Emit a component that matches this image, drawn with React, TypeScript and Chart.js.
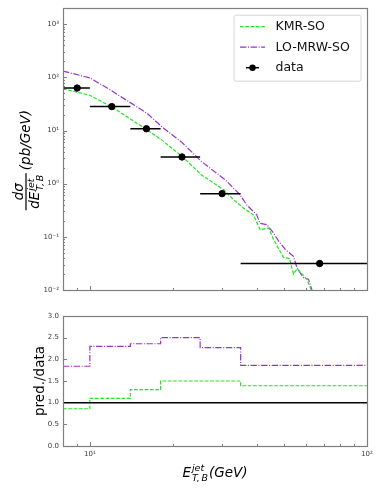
import React, { useEffect, useRef } from "react";
import { Chart, registerables } from "chart.js";
Chart.register(...registerables);

const FONT = '"DejaVu Sans", "Liberation Sans", sans-serif';

// ---- data ----
const binLo = [8, 10, 14, 18, 25, 35];
const binHi = [10, 14, 18, 25, 35, 100];
const dataX = [9, 12, 16, 21.5, 30, 67.5];
const dataY = [63, 28.2, 10.8, 3.18, 0.65, 0.0315];

const kmrX = [8, 10, 12, 16, 18.2, 21.6, 25.3, 30.4, 33, 35.8, 38.9, 41.2, 44.2, 46, 50, 52.5, 54.3, 56, 60.6, 63.2];
const kmrY = [61, 46, 27.8, 10.5, 6.6, 3.2, 1.46, 0.77, 0.5, 0.35, 0.26, 0.136, 0.147, 0.089, 0.041, 0.039, 0.02, 0.025, 0.016, 0.0095];

const mrwX = [8, 10, 11.8, 16.1, 18.2, 21.4, 25.3, 30.8, 34.8, 36.8, 40, 41.1, 43.5, 46, 48, 50.7, 54.3, 55.9, 59, 61.5, 63.5];
const mrwY = [131, 98, 59, 21, 11.7, 6.1, 2.6, 1.18, 0.62, 0.4, 0.26, 0.18, 0.17, 0.118, 0.083, 0.058, 0.043, 0.026, 0.017, 0.016, 0.0095];

const ratioKmr = [0.86, 1.1, 1.3, 1.5, 1.5, 1.39];
const ratioMrw = [1.84, 2.3, 2.36, 2.5, 2.27, 1.86];
const unityX = [8, 100];
const unityY = [1, 1];

// ---- ticks ----
const yTopTicks = [0.01, 0.1, 1, 10, 100, 1000];
const yTopLabels = ["10\u207B\u00B2", "10\u207B\u00B9", "10\u2070", "10\u00B9", "10\u00B2", "10\u00B3"];
const minorMult = [2, 3, 4, 5, 6, 7, 8, 9];
const ratioTicks = [0, 0.5, 1, 1.5, 2, 2.5, 3];
const ratioLabels = ["0.0", "0.5", "1.0", "1.5", "2.0", "2.5", "3.0"];
const xMajorTicks = [10, 100];
const xMajorLabels = ["10\u00B9", "10\u00B2"];
const xMinorTicks = [9, 20, 30, 40, 50, 60, 70, 80, 90];

const GREEN = "#1fe81f";
const PURPLE = "#9932cc";
const FRAME = "#7f7f7f";
const TICKTXT = "#3a3a3a";
const KMR_DASH = [3.7, 1.6];
const MRW_DASH = [6.4, 1.6, 1, 1.6];

const yTopMinor: number[] = [];
yTopTicks.forEach((d) => minorMult.forEach((m) => { if (d * m <= 2000) yTopMinor.push(d * m); }));

function pts(xs: number[], ys: number[]) {
  return xs.map((x, i) => ({ x, y: ys[i] }));
}
function stepPts(vals: number[]) {
  const p = binLo.map((x, i) => ({ x, y: vals[i] }));
  p.push({ x: binHi[binHi.length - 1], y: vals[vals.length - 1] });
  return p;
}

function drawFrameAndTicks(chart: any, yMajor: number[], yMinor: number[]) {
  const { ctx, chartArea: a, scales } = chart;
  ctx.save();
  ctx.strokeStyle = FRAME;
  ctx.lineWidth = 1;
  ctx.beginPath();
  const xs = [...xMajorTicks.map((v) => [v, 4]), ...xMinorTicks.map((v) => [v, 2])];
  xs.forEach(([v, l]) => {
    const px = Math.round(scales.x.getPixelForValue(v)) + 0.5;
    ctx.moveTo(px, a.bottom);
    ctx.lineTo(px, a.bottom - l);
  });
  const ys = [...yMajor.map((v) => [v, 4]), ...yMinor.map((v) => [v, 2])];
  ys.forEach(([v, l]) => {
    const py = Math.round(scales.y.getPixelForValue(v)) + 0.5;
    if (py < a.top || py > a.bottom + 1) return;
    ctx.moveTo(a.left, py);
    ctx.lineTo(a.left + l, py);
  });
  ctx.stroke();
  ctx.lineWidth = 1.2;
  ctx.strokeRect(Math.round(a.left) + 0.5, Math.round(a.top) + 0.5, Math.round(a.right - a.left), Math.round(a.bottom - a.top));
  ctx.restore();
}

function drawYTitleTop(ctx: CanvasRenderingContext2D, cx: number, cy: number) {
  const fs = 13.5;
  const it = `oblique ${fs}px ${FONT}`;
  const sm = `oblique ${fs * 0.7}px ${FONT}`;
  ctx.save();
  ctx.fillStyle = "#000";
  ctx.translate(cx, cy);
  ctx.rotate(-Math.PI / 2);
  ctx.textBaseline = "alphabetic";
  ctx.textAlign = "left";
  ctx.font = it;
  const wNum = ctx.measureText("d\u03C3").width;
  const wDE = ctx.measureText("dE").width;
  const wUnit = ctx.measureText("(pb/GeV)").width;
  ctx.font = sm;
  const wSup = ctx.measureText("jet").width;
  const wSub = ctx.measureText("T,\u2009B").width;
  const wDen = wDE + 1 + Math.max(wSup, wSub);
  const bar = Math.max(wNum, wDen) + 3;
  const gap = 3;
  const total = bar + gap + wUnit;
  const u0 = -total / 2;
  ctx.fillRect(u0, -0.6, bar, 1.2);
  ctx.font = it;
  ctx.fillText("d\u03C3", u0 + (bar - wNum) / 2, -3);
  const dx = u0 + (bar - wDen) / 2;
  const baseDen = 3 + fs * 0.76;
  ctx.fillText("dE", dx, baseDen);
  ctx.font = sm;
  ctx.fillText("jet", dx + wDE + 1, baseDen - fs * 0.42);
  ctx.fillText("T,\u2009B", dx + wDE + 1, baseDen + fs * 0.28);
  ctx.font = it;
  ctx.fillText("(pb/GeV)", u0 + bar + gap, fs * 0.27);
  ctx.restore();
}

function drawXTitle(ctx: CanvasRenderingContext2D, cx: number, base: number) {
  const fs = 13.5;
  const it = `oblique ${fs}px ${FONT}`;
  const sm = `oblique ${fs * 0.7}px ${FONT}`;
  ctx.save();
  ctx.fillStyle = "#000";
  ctx.textBaseline = "alphabetic";
  ctx.textAlign = "left";
  ctx.font = it;
  const wE = ctx.measureText("E").width;
  const wU = ctx.measureText("(GeV)").width;
  ctx.font = sm;
  const wSup = ctx.measureText("jet").width;
  const wSub = ctx.measureText("T,\u2009B").width;
  const wS = Math.max(wSup, wSub) + 1;
  const total = wE + 1 + wS + wU;
  const x0 = cx - total / 2;
  ctx.font = it;
  ctx.fillText("E", x0, base);
  ctx.font = sm;
  ctx.fillText("jet", x0 + wE + 1, base - fs * 0.42);
  ctx.fillText("T,\u2009B", x0 + wE + 1, base + fs * 0.28);
  ctx.font = it;
  ctx.fillText("(GeV)", x0 + wE + 1 + wS, base);
  ctx.restore();
}

function drawLegend(chart: any) {
  const { ctx, chartArea: a } = chart;
  const x0 = a.right - 133;
  const y0 = a.top + 7;
  const w = 127;
  const h = 66;
  ctx.save();
  ctx.beginPath();
  const r = 2;
  ctx.moveTo(x0 + r, y0);
  ctx.arcTo(x0 + w, y0, x0 + w, y0 + h, r);
  ctx.arcTo(x0 + w, y0 + h, x0, y0 + h, r);
  ctx.arcTo(x0, y0 + h, x0, y0, r);
  ctx.arcTo(x0, y0, x0 + w, y0, r);
  ctx.closePath();
  ctx.fillStyle = "rgba(255,255,255,0.8)";
  ctx.fill();
  ctx.strokeStyle = "#d6d6d6";
  ctx.lineWidth = 1;
  ctx.stroke();
  const rows = [
    { label: "KMR-SO", y: y0 + 11.5, kind: 0 },
    { label: "LO-MRW-SO", y: y0 + 32, kind: 1 },
    { label: "data", y: y0 + 52.5, kind: 2 },
  ];
  const lx0 = x0 + 6;
  const lx1 = x0 + 31;
  rows.forEach((row) => {
    ctx.beginPath();
    if (row.kind === 0) {
      ctx.strokeStyle = GREEN; ctx.lineWidth = 1.2; ctx.setLineDash(KMR_DASH);
      ctx.moveTo(lx0, row.y); ctx.lineTo(lx1, row.y); ctx.stroke();
    } else if (row.kind === 1) {
      ctx.strokeStyle = PURPLE; ctx.lineWidth = 1.2; ctx.setLineDash(MRW_DASH);
      ctx.moveTo(lx0, row.y); ctx.lineTo(lx1, row.y); ctx.stroke();
    } else {
      ctx.setLineDash([]);
      ctx.strokeStyle = "#000"; ctx.lineWidth = 1.5;
      ctx.moveTo(lx0 + 6, row.y); ctx.lineTo(lx1 - 6, row.y); ctx.stroke();
      ctx.beginPath(); ctx.fillStyle = "#000";
      ctx.arc((lx0 + lx1) / 2, row.y, 3.2, 0, Math.PI * 2); ctx.fill();
    }
    ctx.setLineDash([]);
    ctx.fillStyle = "#111";
    ctx.font = `12.5px ${FONT}`;
    ctx.textBaseline = "middle";
    ctx.textAlign = "left";
    ctx.fillText(row.label, x0 + 41.5, row.y + 0.5);
  });
  ctx.restore();
}

const topPlugin = {
  id: "topDecor",
  afterDatasetsDraw(chart: any) {
    const { ctx, chartArea: a, scales } = chart;
    ctx.save();
    ctx.beginPath();
    ctx.rect(a.left, a.top, a.right - a.left, a.bottom - a.top);
    ctx.clip();
    ctx.strokeStyle = "#000";
    ctx.lineWidth = 1.5;
    ctx.beginPath();
    dataY.forEach((y, i) => {
      const py = scales.y.getPixelForValue(y);
      ctx.moveTo(scales.x.getPixelForValue(binLo[i]), py);
      ctx.lineTo(scales.x.getPixelForValue(binHi[i]), py);
    });
    ctx.stroke();
    ctx.restore();
  },
  afterDraw(chart: any) {
    drawFrameAndTicks(chart, yTopTicks, yTopMinor);
    drawLegend(chart);
    drawYTitleTop(chart.ctx, 26, (chart.chartArea.top + chart.chartArea.bottom) / 2 + 11);
  },
};

const botPlugin = {
  id: "botDecor",
  afterDraw(chart: any) {
    drawFrameAndTicks(chart, ratioTicks, []);
    const { ctx, chartArea: a } = chart;
    ctx.save();
    ctx.fillStyle = "#000";
    ctx.font = `13.5px ${FONT}`;
    ctx.textAlign = "center";
    ctx.textBaseline = "middle";
    ctx.translate(40, (a.top + a.bottom) / 2);
    ctx.rotate(-Math.PI / 2);
    ctx.fillText("pred./data", 0, 0);
    ctx.restore();
    drawXTitle(ctx, (a.left + a.right) / 2, 177);
  },
};

const tickFont = { family: FONT, size: 7 };

function topConfig(): any {
  return {
    type: "line",
    data: {
      datasets: [
        {
          label: "data",
          data: pts(dataX, dataY),
          showLine: false,
          pointRadius: 3.2,
          pointBackgroundColor: "#000",
          pointBorderColor: "#000",
          borderColor: "#000",
        },
        {
          label: "KMR-SO",
          data: pts(kmrX, kmrY),
          borderColor: GREEN,
          borderWidth: 1.2,
          borderDash: KMR_DASH,
          pointRadius: 0,
          tension: 0,
          fill: false,
        },
        {
          label: "LO-MRW-SO",
          data: pts(mrwX, mrwY),
          borderColor: PURPLE,
          borderWidth: 1.2,
          borderDash: MRW_DASH,
          pointRadius: 0,
          tension: 0,
          fill: false,
        },
      ],
    },
    options: {
      responsive: false,
      animation: false,
      devicePixelRatio: 1,
      layout: { padding: { left: 0, right: 14, top: 7, bottom: 0 } },
      plugins: { legend: { display: false }, tooltip: { enabled: false } },
      events: [],
      scales: {
        x: {
          type: "logarithmic",
          min: 8,
          max: 100,
          grid: { display: false },
          border: { display: false },
          ticks: { display: false },
          afterFit: (s: any) => { s.height = 10; },
        },
        y: {
          type: "logarithmic",
          min: 0.01,
          max: 2000,
          grid: { display: false, drawTicks: false },
          border: { display: false },
          afterBuildTicks: (s: any) => { s.ticks = yTopTicks.map((v) => ({ value: v })); },
          ticks: {
            autoSkip: false,
            font: tickFont,
            color: TICKTXT,
            padding: 4,
            callback: (v: number) => yTopLabels[yTopTicks.indexOf(v)] ?? "",
          },
          afterFit: (s: any) => { s.width = 63; },
        },
      },
    },
    plugins: [topPlugin],
  };
}

function botConfig(): any {
  return {
    type: "line",
    data: {
      datasets: [
        {
          label: "unity",
          data: pts(unityX, unityY),
          borderColor: "#000",
          borderWidth: 1.5,
          pointRadius: 0,
        },
        {
          label: "KMR-SO",
          data: stepPts(ratioKmr),
          stepped: "before",
          borderColor: GREEN,
          borderWidth: 1.2,
          borderDash: KMR_DASH,
          pointRadius: 0,
        },
        {
          label: "LO-MRW-SO",
          data: stepPts(ratioMrw),
          stepped: "before",
          borderColor: PURPLE,
          borderWidth: 1.2,
          borderDash: MRW_DASH,
          pointRadius: 0,
        },
      ],
    },
    options: {
      responsive: false,
      animation: false,
      devicePixelRatio: 1,
      layout: { padding: { left: 0, right: 14, top: 16, bottom: 0 } },
      plugins: { legend: { display: false }, tooltip: { enabled: false } },
      events: [],
      scales: {
        x: {
          type: "logarithmic",
          min: 8,
          max: 100,
          grid: { display: false, drawTicks: false },
          border: { display: false },
          afterBuildTicks: (s: any) => { s.ticks = xMajorTicks.map((v) => ({ value: v })); },
          ticks: {
            autoSkip: false,
            maxRotation: 0,
            font: tickFont,
            color: TICKTXT,
            padding: 4,
            callback: (v: number) => xMajorLabels[xMajorTicks.indexOf(v)] ?? "",
          },
          afterFit: (s: any) => { s.height = 44; },
        },
        y: {
          type: "linear",
          min: 0,
          max: 3,
          grid: { display: false, drawTicks: false },
          border: { display: false },
          afterBuildTicks: (s: any) => { s.ticks = ratioTicks.map((v) => ({ value: v })); },
          ticks: {
            autoSkip: false,
            font: tickFont,
            color: TICKTXT,
            padding: 4,
            callback: (v: number) => ratioLabels[ratioTicks.indexOf(v)] ?? "",
          },
          afterFit: (s: any) => { s.width = 63; },
        },
      },
    },
    plugins: [botPlugin],
  };
}

export default function App() {
  const topRef = useRef<HTMLCanvasElement>(null);
  const botRef = useRef<HTMLCanvasElement>(null);
  useEffect(() => {
    const top = new Chart(topRef.current!, topConfig());
    const bot = new Chart(botRef.current!, botConfig());
    return () => {
      top.destroy();
      bot.destroy();
    };
  }, []);
  return (
    <div style={{ position: "absolute", left: 0, top: 0, width: 381, height: 490, background: "#fff" }}>
      <canvas ref={topRef} width={381} height={300} style={{ position: "absolute", left: 0, top: 0, width: 381, height: 300 }} />
      <canvas ref={botRef} width={381} height={190} style={{ position: "absolute", left: 0, top: 300, width: 381, height: 190 }} />
    </div>
  );
}
